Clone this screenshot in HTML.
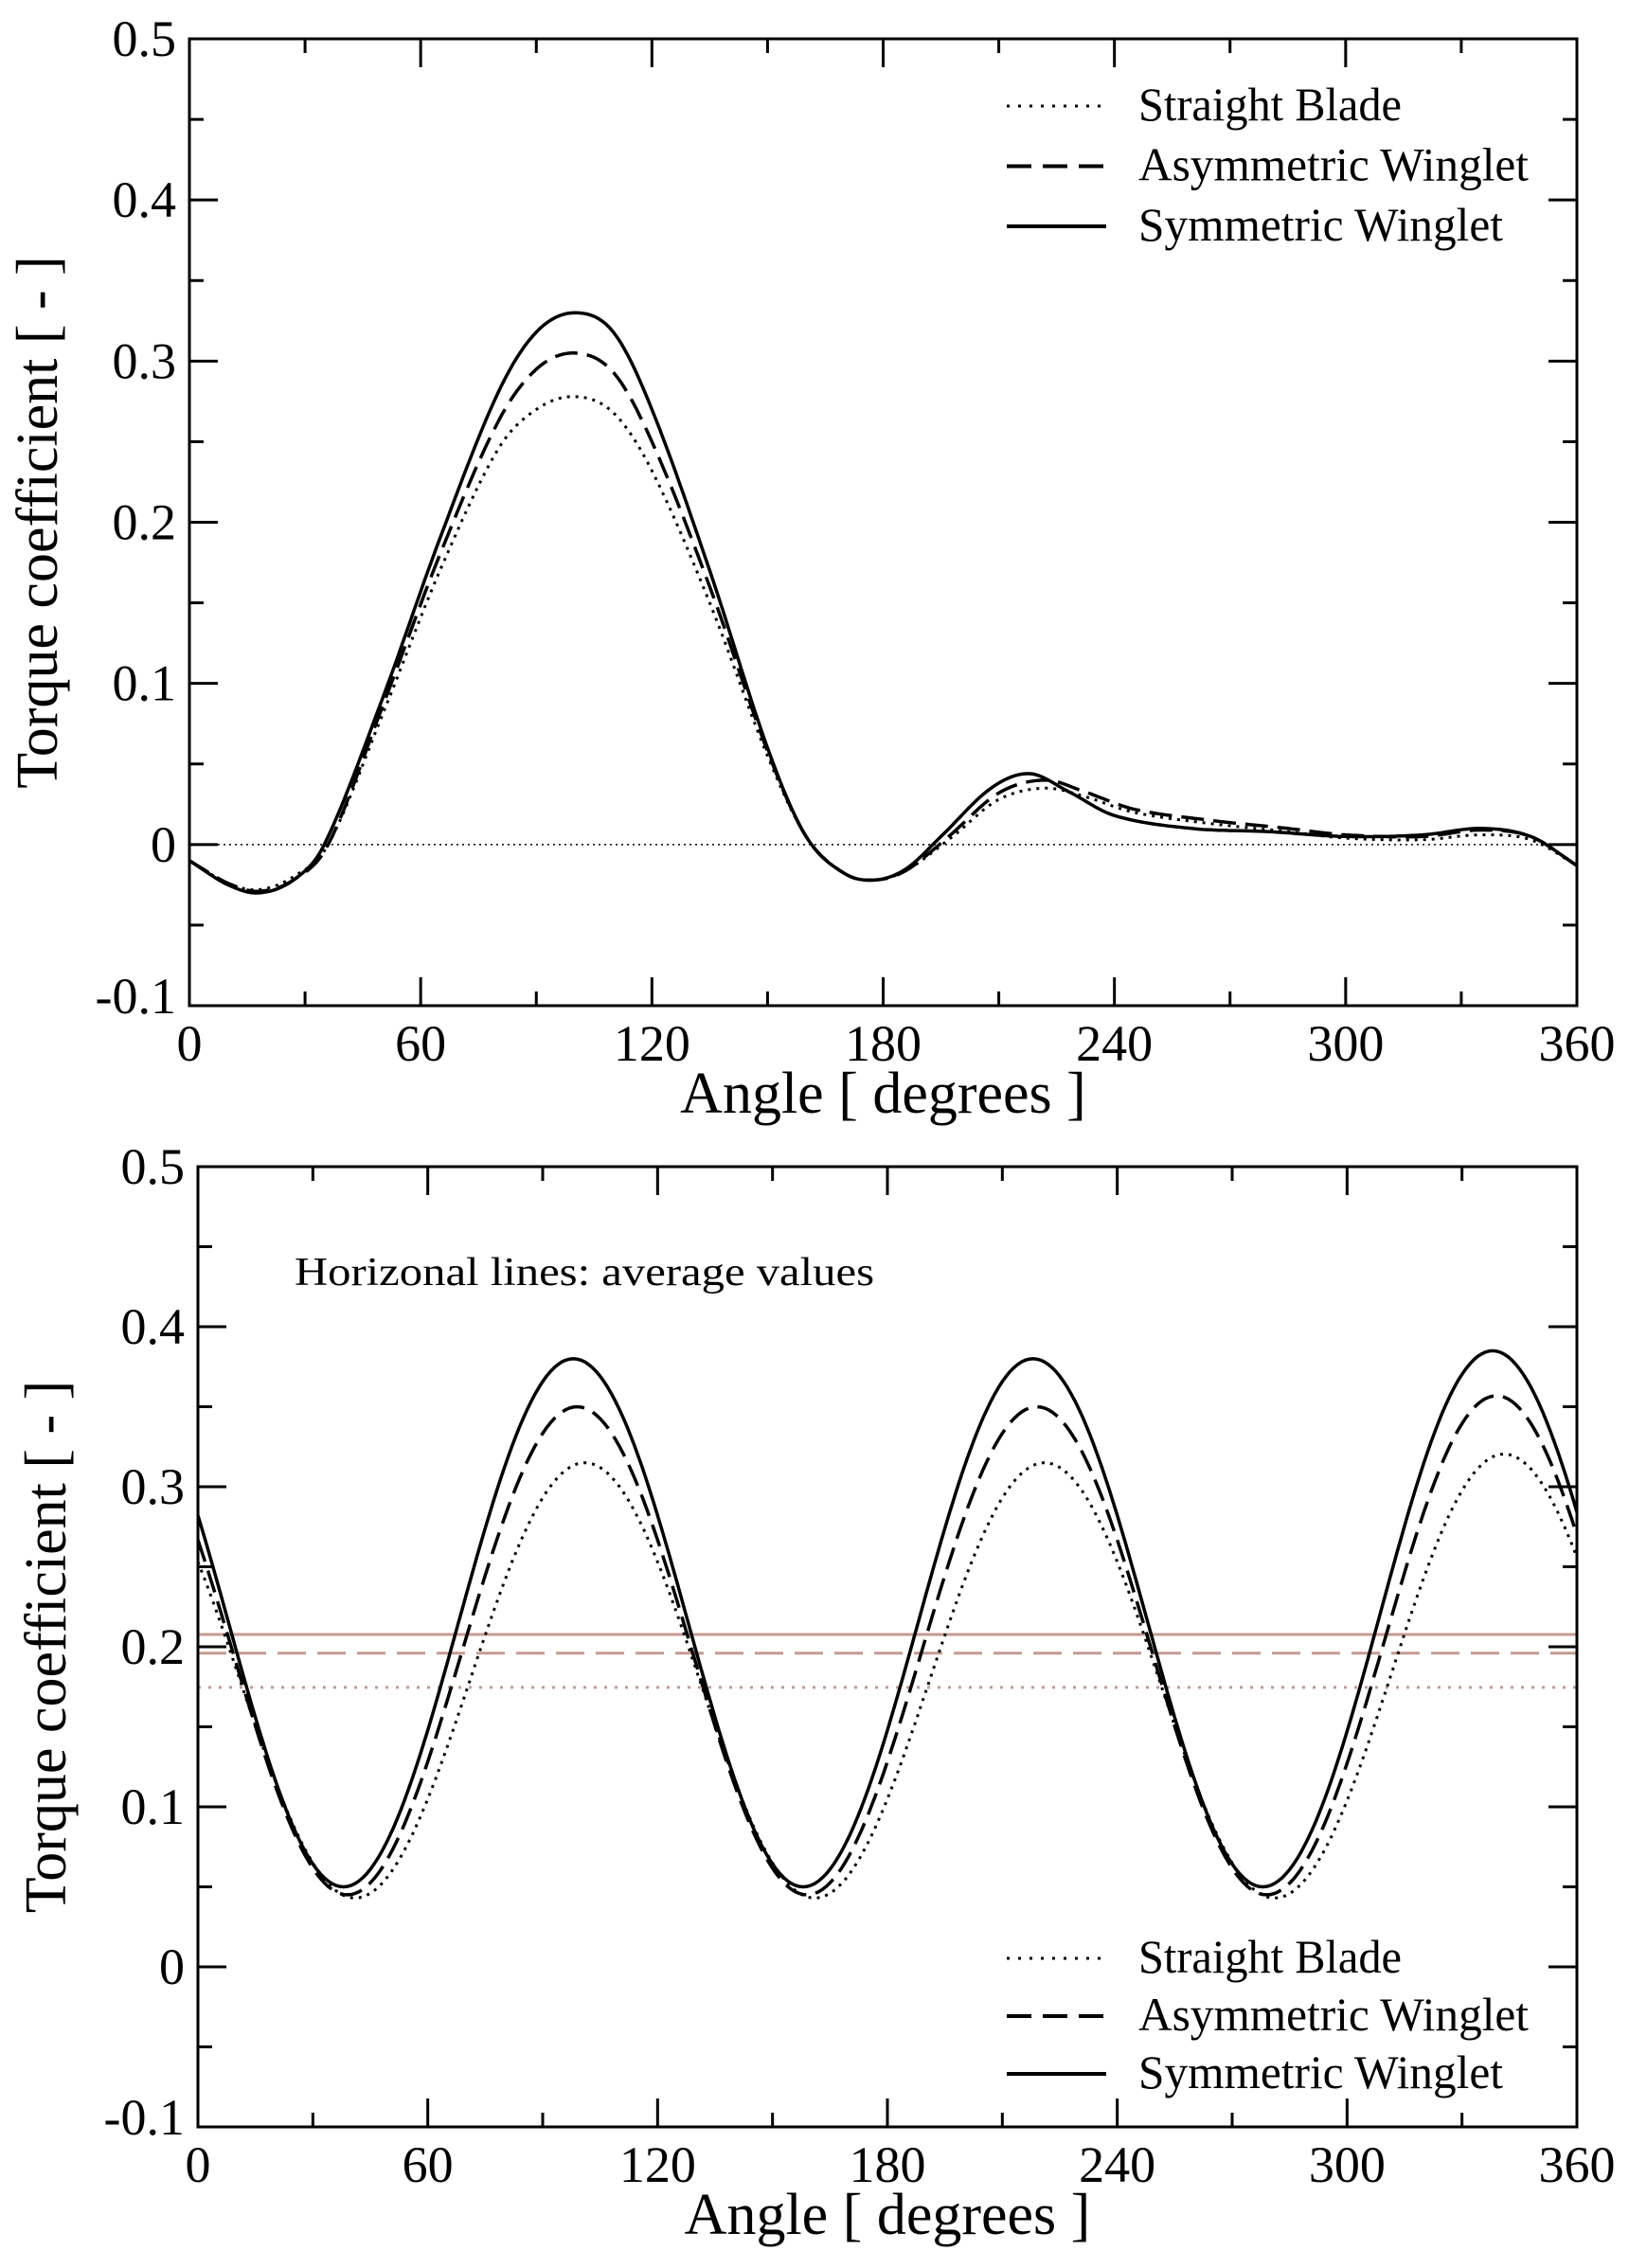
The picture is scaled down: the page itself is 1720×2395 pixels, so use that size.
<!DOCTYPE html>
<html><head><meta charset="utf-8"><style>html,body{margin:0;padding:0;background:#fff}svg{display:block}text{font-family:"Liberation Serif",serif;fill:#000}</style></head>
<body>
<svg id="s" width="1720" height="2395" xmlns="http://www.w3.org/2000/svg"></svg>
<script>
const S=document.getElementById('s');let h='';
function cr(pts,x){
  let i=0;while(i<pts.length-2&&pts[i+1][0]<x)i++;
  const p1=pts[i],p2=pts[i+1],p0=pts[Math.max(0,i-1)],p3=pts[Math.min(pts.length-1,i+2)];
  const t=(x-p1[0])/(p2[0]-p1[0]);
  const m1=(p2[1]-p0[1])/(p2[0]-p0[0])*(p2[0]-p1[0]),m2=(p3[1]-p1[1])/(p3[0]-p1[0])*(p2[0]-p1[0]);
  const t2=t*t,t3=t2*t;
  return (2*t3-3*t2+1)*p1[1]+(t3-2*t2+t)*m1+(-2*t3+3*t2)*p2[1]+(t3-t2)*m2;
}
function plot(L,T,R,B,opt){
  const X=v=>L+(R-L)*v/360,Y=v=>B-(B-T)*(v+0.1)/0.6;
  if(opt.zero)h+=`<line x1="${L}" x2="${R}" y1="${Y(0)}" y2="${Y(0)}" stroke="#000" stroke-width="1.5" stroke-dasharray="2,4"/>`;
  (opt.avg||[]).forEach(a=>h+=`<line x1="${L}" x2="${R}" y1="${Y(a[0])}" y2="${Y(a[0])}" stroke="#c49a92" stroke-width="3" ${a[1]}/>`);
  opt.series.forEach(s=>{let d='';for(let x=0;x<=360;x+=1){const v=s.f?s.f(x):cr(s.p,x);d+=(x?'L':'M')+X(x).toFixed(1)+','+Y(v).toFixed(1);}
    h+=`<path d="${d}" fill="none" stroke="#000" stroke-width="${s.w}" ${s.da}/>`;});
  h+=`<rect x="${L}" y="${T}" width="${R-L}" height="${B-T}" fill="none" stroke="#000" stroke-width="3"/>`;
  for(let a=0;a<=360;a+=30){const l=a%60?15:30,x=X(a);h+=`<line x1="${x}" x2="${x}" y1="${B}" y2="${B-l}" stroke="#000" stroke-width="3"/><line x1="${x}" x2="${x}" y1="${T}" y2="${T+l}" stroke="#000" stroke-width="3"/>`;
    if(a%60==0)h+=`<text x="${x}" y="${B+58}" font-size="54" text-anchor="middle">${a}</text>`;}
  for(let k=-2;k<=10;k++){const v=k*0.05,y=Y(v),l=k%2?15:30;h+=`<line x1="${L}" x2="${L+l}" y1="${y}" y2="${y}" stroke="#000" stroke-width="3"/><line x1="${R}" x2="${R-l}" y1="${y}" y2="${y}" stroke="#000" stroke-width="3"/>`;
    if(k%2==0){const lab=k==0?'0':(v).toFixed(1);h+=`<text x="${L-14}" y="${y+(k==-2?8:18)}" font-size="54" text-anchor="end">${lab}</text>`;}}
  h+=`<text x="${(L+R)/2}" y="${B+113}" font-size="62" text-anchor="middle">Angle [ degrees ]</text>`;
  h+=`<text transform="translate(${L-140},${(T+B)/2}) rotate(-90)" font-size="62" text-anchor="middle">Torque coefficient [ - ]</text>`;
  const ly=opt.leg,dy=opt.dy;const names=['Straight Blade','Asymmetric Winglet','Symmetric Winglet'],das=['stroke-dasharray="3,9"','stroke-dasharray="26,12"',''],tl=[278,412,385];
  names.forEach((n,i)=>{const y=ly+i*dy;h+=`<line x1="1063" x2="1168" y1="${y}" y2="${y}" stroke="#000" stroke-width="${i==0?3:4}" ${das[i]}/><text x="1202" y="${y+15}" font-size="50" textLength="${tl[i]}" lengthAdjust="spacingAndGlyphs">${n}</text>`;});
}
const top1={sym:[[0,-0.01],[10,-0.025],[18,-0.03],[27,-0.022],[35,0],[50,0.09],[65,0.19],[80,0.28],[90,0.318],[100,0.33],[110,0.318],[120,0.27],[135,0.17],[150,0.06],[160,0.005],[170,-0.018],[178,-0.022],[186,-0.015],[195,0.005],[208,0.035],[218,0.044],[228,0.033],[240,0.018],[260,0.01],[280,0.008],[300,0.005],[320,0.006],[335,0.01],[348,0.005],[360,-0.013]],
asym:[[0,-0.01],[10,-0.024],[18,-0.029],[27,-0.022],[36,0],[50,0.085],[65,0.18],[80,0.262],[90,0.295],[100,0.305],[110,0.293],[120,0.25],[135,0.16],[150,0.058],[160,0.005],[170,-0.018],[178,-0.022],[186,-0.016],[197,0.005],[210,0.032],[222,0.04],[232,0.033],[245,0.022],[265,0.015],[285,0.01],[300,0.006],[320,0.005],[335,0.009],[348,0.005],[360,-0.013]],
str:[[0,-0.01],[10,-0.024],[18,-0.028],[27,-0.02],[36,0],[50,0.08],[65,0.17],[80,0.245],[90,0.27],[100,0.278],[110,0.268],[120,0.232],[135,0.15],[150,0.055],[160,0.005],[170,-0.018],[178,-0.022],[186,-0.016],[198,0.005],[210,0.028],[222,0.035],[232,0.03],[245,0.02],[265,0.013],[285,0.008],[300,0.004],[320,0.003],[335,0.006],[348,0.003],[360,-0.013]]};
plot(200,41,1665,1062,{zero:1,leg:112,dy:63.5,series:[{p:top1.str,w:3,da:'stroke-dasharray="3,6"'},{p:top1.asym,w:3.5,da:'stroke-dasharray="24,10"'},{p:top1.sym,w:3.5,da:''}]});
function sm(x){const t=Math.min(1,Math.max(0,(x-280)/50));return t*t*(3-2*t);}
function mk(c,a,pk,g){return x=>{const aa=a*(1+g*sm(x));return c+aa*Math.cos(3*(x-pk)*Math.PI/180);};}
plot(209,1232,1665,2246,{leg:2068,dy:61,avg:[[0.2077,''],[0.196,'stroke-dasharray="30,12"'],[0.1746,'stroke-dasharray="3,8"']],series:[
 {f:mk(0.179,0.136,101,0.04),w:3,da:'stroke-dasharray="3,6"'},
 {f:mk(0.1975,0.1525,99,0.045),w:3.5,da:'stroke-dasharray="24,10"'},
 {f:mk(0.215,0.165,98,0.03),w:3.5,da:''}]});
h+=`<text x="311" y="1357" font-size="42" textLength="612" lengthAdjust="spacingAndGlyphs">Horizonal lines: average values</text>`;
S.innerHTML=h;
</script>
</body></html>
